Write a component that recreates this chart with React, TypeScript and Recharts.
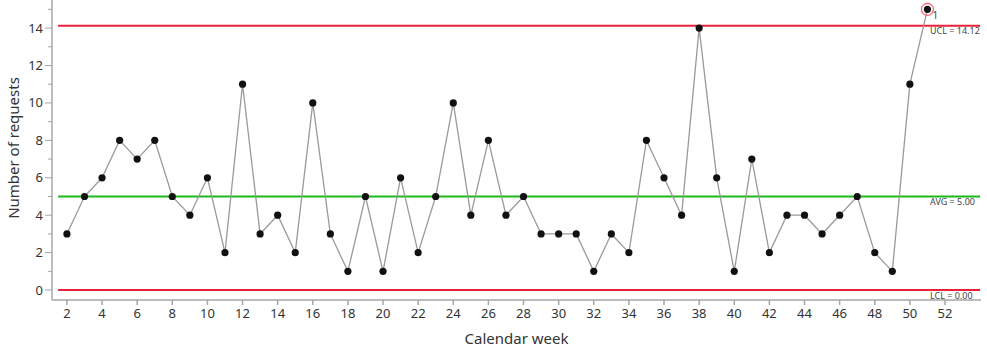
import * as React from "react"
import { LineChart, Line, XAxis, YAxis, ReferenceLine } from "recharts"

// calendar weeks and requests per week
const weeks = [2, 3, 4, 5, 6, 7, 8, 9, 10, 11, 12, 13, 14, 15, 16, 17, 18, 19, 20, 21, 22, 23, 24, 25, 26, 27, 28, 29, 30, 31, 32, 33, 34, 35, 36, 37, 38, 39, 40, 41, 42, 43, 44, 45, 46, 47, 48, 49, 50, 51]
const requests = [3, 5, 6, 8, 7, 8, 5, 4, 6, 2, 11, 3, 4, 2, 10, 3, 1, 5, 1, 6, 2, 5, 10, 4, 8, 4, 5, 3, 3, 3, 1, 3, 2, 8, 6, 4, 14, 6, 1, 7, 2, 4, 4, 3, 4, 5, 2, 1, 11, 15]

const limits = [
  { name: "UCL", value: 14.12, color: "#e8203a" },
  { name: "AVG", value: 5.0, color: "#1cb81c" },
  { name: "LCL", value: 0.0, color: "#e8203a" },
]

const xTicks = [2, 4, 6, 8, 10, 12, 14, 16, 18, 20, 22, 24, 26, 28, 30, 32, 34, 36, 38, 40, 42, 44, 46, 48, 50, 52]
const yTicks = [0, 1, 2, 3, 4, 5, 6, 7, 8, 9, 10, 11, 12, 13, 14, 15]

const data = weeks.map((w, i) => ({ week: w, requests: requests[i] }))

const FONT = "'Segoe UI', 'Noto Sans', sans-serif"
const AXIS = "#a6a6a6"
const TEXT = "#333"

const YTick = (props: any) => {
  const { x, y, payload } = props
  const major = payload.value % 2 === 0
  return (
    <g>
      <line x1={x - (major ? 7 : 4)} x2={x} y1={y} y2={y} stroke={AXIS} strokeWidth={1} />
      {major && (
        <text x={x - 9} y={y} dy={4.5} textAnchor="end" fontSize={13} fontFamily={FONT} fill={TEXT}>
          {payload.value}
        </text>
      )}
    </g>
  )
}

const Dot = (props: any) => {
  const { cx, cy, payload } = props
  const outlier = payload.requests > limits[0].value
  return (
    <g key={`dot-${payload.week}`}>
      {outlier && <circle cx={cx} cy={cy} r={6} fill="none" stroke="#f06070" strokeWidth={1.2} />}
      <circle cx={cx} cy={cy} r={3.6} fill="#111" />
      {outlier && (
        <text x={cx + 5} y={cy + 10} fontSize={10} fontFamily={FONT} fill="#444">1</text>
      )}
    </g>
  )
}

export default function App() {
  return (
    <div style={{ position: "absolute", left: 0, top: 0, background: "#fff" }}>
      <LineChart width={987} height={352} data={data} margin={{ top: 0, right: 6, bottom: 0, left: 0 }}>
        <XAxis
          dataKey="week"
          type="number"
          domain={[1.15, 54.05]}
          ticks={xTicks}
          interval={0}
          height={52}
          stroke={AXIS}
          strokeWidth={1.5}
          tickSize={5}
          tickMargin={4}
          tick={{ fontSize: 13, fontFamily: FONT, fill: TEXT }}
          label={{ value: "Calendar week", position: "insideBottom", offset: 8, fontSize: 15, fontFamily: FONT, fill: TEXT }}
        />
        <YAxis
          type="number"
          domain={[-0.53, 15.5]}
          ticks={yTicks}
          interval={0}
          width={52}
          stroke={AXIS}
          strokeWidth={1.5}
          tickLine={false}
          tickSize={0}
          tickMargin={0}
          tick={<YTick />}
          label={() => (
            <text x={19} y={148} transform="rotate(-90 19 148)" textAnchor="middle" fontSize={15} fontFamily={FONT} fill={TEXT}>
              Number of requests
            </text>
          )}
        />
        {limits.map((l) => (
          <ReferenceLine
            key={l.name}
            segment={[{ x: 1.5, y: l.value }, { x: 54, y: l.value }]}
            stroke={l.color}
            strokeWidth={2}
            ifOverflow="extendDomain"
            label={(p: any) => (
              <text x={930} y={p.viewBox.y + 8.5} fontSize={9} fontFamily={FONT} fill="#444">
                {`${l.name} = ${l.value.toFixed(2)}`}
              </text>
            )}
          />
        ))}
        <Line
          dataKey="requests"
          stroke="#9a9a9a"
          strokeWidth={1.3}
          dot={<Dot />}
          activeDot={false}
          isAnimationActive={false}
        />
      </LineChart>
    </div>
  )
}
